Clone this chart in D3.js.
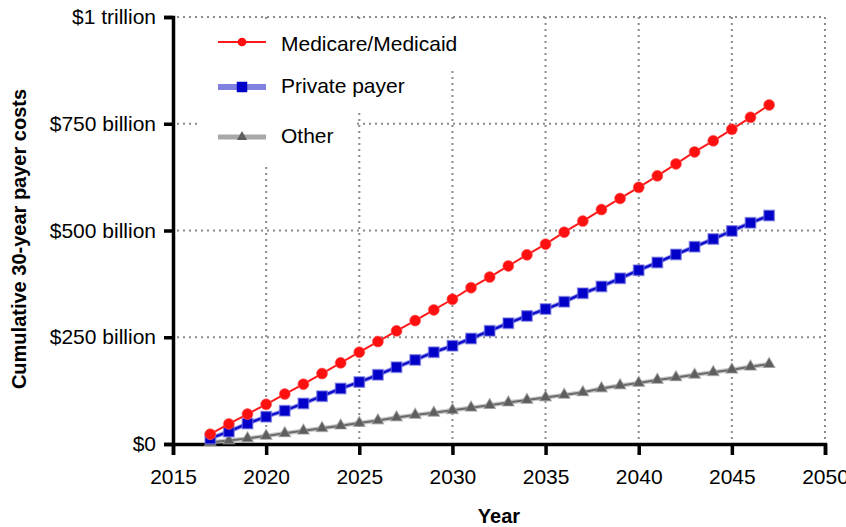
<!DOCTYPE html>
<html><head><meta charset="utf-8">
<script src="https://cdn.jsdelivr.net/npm/d3@7/dist/d3.min.js"></script>
<style>
body{margin:0;background:#fff}
text{font-family:"Liberation Sans",Arial,Helvetica,sans-serif;fill:#000}
</style>
</head><body>
<svg id="c" width="846" height="527"></svg>
<script>
// ---- data (billions of dollars) ----
const years = [2017,2018,2019,2020,2021,2022,2023,2024,2025,2026,2027,2028,2029,2030,2031,2032,
               2033,2034,2035,2036,2037,2038,2039,2040,2041,2042,2043,2044,2045,2046,2047];
const medicare = [23,47,70,93,117,140,165,190,215,240,265,289,314,339,366,391,
                  417,443,468,496,522,549,575,601,628,656,684,710,737,765,794];
const privatePayer = [13,29,48,64,78,95,112,130,145,162,180,197,215,230,247,265,
                      283,300,316,333,353,369,388,407,425,444,462,480,499,518,535];
const other = [4,8,13,19,25,31,37,43,49,55,62,68,73,79,85,91,
               97,103,109,115,121,130,137,143,150,156,162,168,174,181,187];
const seriesNames = ["Medicare/Medicaid","Private payer","Other"];
const xTicks = [2015,2020,2025,2030,2035,2040,2045,2050];
const yTicks = [0,250,500,750,1000];
const yTickLabels = ["$0","$250 billion","$500 billion","$750 billion","$1 trillion"];
const xTitle = "Year";
const yTitle = "Cumulative 30-year payer costs";

const svg = d3.select("#c");
const x = d3.scaleLinear().domain([2015,2050]).range([173,825]);
const y = d3.scaleLinear().domain([0,1000]).range([444,17]);

// ---- grid ----
const grid = svg.append("g").attr("stroke","#8a8a8a").attr("stroke-width",2).attr("stroke-dasharray","2,4");
grid.selectAll("line.h").data(yTicks.slice(1)).join("line")
  .attr("x1",x(2015)+4).attr("x2",x(2050)).attr("y1",d=>y(d)).attr("y2",d=>y(d));
grid.selectAll("line.v").data(xTicks.slice(1)).join("line")
  .attr("x1",d=>x(d)).attr("x2",d=>x(d)).attr("y1",y(1000)).attr("y2",y(0)-2);

// legend background masks (hide part of the grid)
const mask = svg.append("g").attr("fill","#fff");
mask.append("rect").attr("x",198).attr("y",21).attr("width",258).attr("height",46);
mask.append("rect").attr("x",198).attr("y",66).attr("width",164).attr("height",46);
mask.append("rect").attr("x",198).attr("y",111).attr("width",159).attr("height",52);

// ---- axes ----
const yAxis = svg.append("g").attr("transform",`translate(${x(2015)},0)`)
  .call(d3.axisLeft(y).tickValues(yTicks).tickFormat((d,i)=>yTickLabels[i]).tickSize(9).tickPadding(8));
const xAxis = svg.append("g").attr("transform",`translate(0,${y(0)})`)
  .call(d3.axisBottom(x).tickValues(xTicks).tickFormat(d3.format("d")).tickSize(11).tickPadding(14));
[yAxis,xAxis].forEach(a=>{
  a.select(".domain").attr("stroke","#000").attr("stroke-width",3.5);
  a.selectAll(".tick line").attr("stroke","#000").attr("stroke-width",3.5);
  a.selectAll("text").style("font-size","21px").attr("fill","#000");
});

// ---- titles ----
svg.append("text").attr("x",(x(2015)+x(2050))/2).attr("y",523).attr("text-anchor","middle")
  .style("font-size","20px").style("font-weight","bold").text(xTitle);
svg.append("text").attr("transform","translate(26,239) rotate(-90)").attr("text-anchor","middle")
  .style("font-size","20px").style("font-weight","bold").text(yTitle);

// ---- series ----
const mk = v => years.map((yr,i)=>({yr, v:v[i]}));
const line = d3.line().x(d=>x(d.yr)).y(d=>y(d.v));

function drawSeries(data, opts){
  const g = svg.append("g");
  if(opts.halo) g.append("path").datum(data).attr("d",line).attr("fill","none")
      .attr("stroke",opts.halo).attr("stroke-width",opts.haloW).attr("stroke-opacity",0.7);
  g.append("path").datum(data).attr("d",line).attr("fill","none")
    .attr("stroke",opts.stroke).attr("stroke-width",opts.lw);
  g.selectAll("path.m").data(data).join("path").attr("class","m")
    .attr("transform",d=>`translate(${x(d.yr)},${y(d.v)})`)
    .attr("d",d3.symbol().type(opts.sym).size(opts.size))
    .attr("fill",opts.fill)
    .attr("stroke",opts.mstroke||"none").attr("stroke-width",opts.mstrokeW||0).attr("stroke-opacity",0.6);
}
const styles = [
  {stroke:"#ff1a1a", lw:2, sym:d3.symbolCircle, size:95, fill:"#ff1010", mstroke:"#ff6060", mstrokeW:1},
  {stroke:"#1010cc", lw:2.5, halo:"#7d7de6", haloW:4.5, sym:d3.symbolSquare, size:110, fill:"#0000c8", mstroke:"#7070e0", mstrokeW:1.5},
  {stroke:"#6a6a6a", lw:2, halo:"#b0b0b0", haloW:4.5, sym:d3.symbolTriangle, size:58, fill:"#5e5e5e", mstroke:"#999", mstrokeW:1.2}
];
drawSeries(mk(other), styles[2]);
drawSeries(mk(privatePayer), styles[1]);
drawSeries(mk(medicare), styles[0]);

// ---- legend ----
const legY = [42,87,137];
const legBase = [51,93,143];
const leg = svg.append("g");
const legLine = [
  {stroke:"#ff1a1a", w:2, op:1},
  {stroke:"#6b6bdc", w:6, op:0.85},
  {stroke:"#a8a8a8", w:5, op:1}
];
seriesNames.forEach((name,i)=>{
  leg.append("line").attr("x1",218).attr("x2",266).attr("y1",legY[i]).attr("y2",legY[i])
    .attr("stroke",legLine[i].stroke).attr("stroke-width",legLine[i].w).attr("stroke-opacity",legLine[i].op);
  const s = styles[i];
  leg.append("path").attr("transform",`translate(242,${legY[i]})`)
    .attr("d",d3.symbol().type(s.sym).size(i===0?60:(i===1?110:45))).attr("fill",s.fill);
  leg.append("text").attr("x",281).attr("y",legBase[i]).style("font-size","21px").text(name);
});
</script>
</body></html>
